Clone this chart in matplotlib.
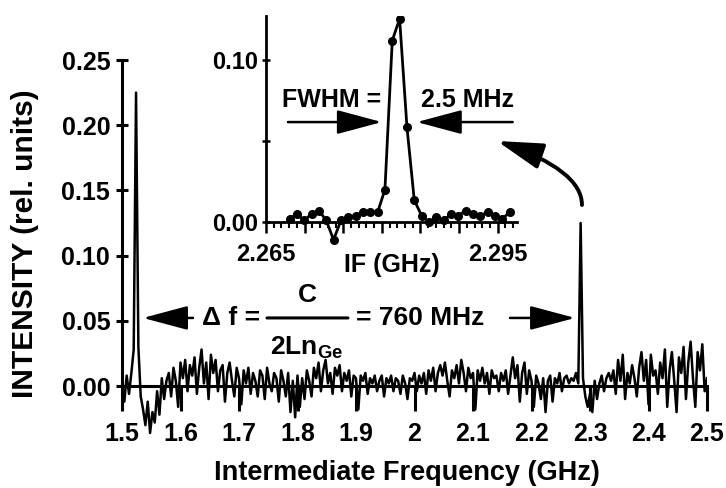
import matplotlib
matplotlib.use('Agg')
import matplotlib.pyplot as plt
import numpy as np
from matplotlib.patches import ArrowStyle

plt.rcParams['font.family'] = ['Liberation Sans', 'DejaVu Sans']
plt.rcParams['font.weight'] = 'bold'
plt.rcParams['mathtext.fontset'] = 'custom'
plt.rcParams['mathtext.rm'] = 'Liberation Sans:bold'
plt.rcParams['mathtext.bf'] = 'Liberation Sans:bold'
plt.rcParams['mathtext.it'] = 'Liberation Sans:bold'
plt.rcParams['mathtext.default'] = 'bf'

# ---------------- data ----------------
# main spectrum, sampled every 4 MHz from 1.5 to 2.5 GHz
freq = np.linspace(1.5, 2.5, 251)
intensity = [
    0.004, -0.012, 0.008, -0.006, 0.010, 0.028, 0.225, 0.030, -0.008, -0.018,
    -0.030, -0.012, -0.036, -0.020, -0.028, -0.004, -0.022, 0.006, -0.010, 0.004,
    0.010, -0.008, 0.014, 0.004, -0.016, 0.018, 0.006, 0.020, -0.004, 0.016,
    0.008, 0.022, -0.006, 0.014, 0.028, 0.002, 0.018, -0.010, 0.024, 0.010,
    0.020, -0.004, 0.012, 0.016, -0.012, 0.010, 0.018, 0.004, -0.008, 0.014,
    0.006, -0.014, 0.012, 0.002, 0.014, -0.006, 0.010, 0.004, -0.008, 0.012,
    0.008, -0.010, 0.014, 0.002, -0.004, 0.010, 0.006, -0.012, 0.012, 0.004,
    -0.008, 0.010, -0.020, 0.004, -0.024, 0.008, -0.016, 0.006, -0.010, 0.012,
    0.004, -0.008, 0.014, 0.006, 0.018, -0.004, 0.012, 0.020, 0.002, 0.010,
    -0.006, 0.014, 0.008, 0.016, -0.004, 0.010, 0.004, 0.012, -0.008, 0.008,
    0.006, -0.018, 0.008, 0.004, 0.010, -0.006, 0.006, 0.002, 0.008, -0.004,
    0.004, 0.008, -0.008, 0.006, 0.002, 0.008, -0.004, 0.006, 0.004, -0.006,
    0.008, 0.002, -0.010, 0.006, 0.004, 0.010, -0.004, 0.008, 0.002, 0.010,
    -0.006, 0.012, 0.004, 0.014, -0.004, 0.010, 0.016, 0.008, 0.018, 0.004,
    -0.008, 0.012, 0.006, 0.016, 0.002, 0.020, 0.010, -0.004, 0.014, 0.006,
    0.010, -0.018, 0.012, 0.004, 0.014, 0.002, 0.010, -0.006, 0.012, 0.006,
    0.008, -0.004, 0.010, 0.004, 0.012, -0.006, 0.008, 0.022, 0.006, 0.016,
    -0.012, 0.010, 0.018, -0.006, 0.012, 0.004, -0.016, 0.008, 0.002, -0.010,
    0.006, -0.020, 0.004, 0.008, -0.012, 0.006, 0.002, 0.010, -0.004, 0.006,
    0.008, 0.002, 0.006, 0.004, 0.010, 0.002, 0.125, 0.006, -0.008, -0.016,
    -0.006, -0.020, 0.004, -0.010, 0.002, 0.008, -0.004, 0.006, 0.010, 0.004,
    0.012, -0.006, 0.020, 0.004, 0.024, -0.010, 0.010, 0.002, 0.016, 0.006,
    -0.008, 0.014, 0.026, 0.004, 0.020, -0.014, 0.024, 0.008, 0.012, -0.006,
    0.018, 0.006, 0.028, -0.016, 0.012, 0.026, 0.004, -0.020, 0.022, 0.010,
    0.030, -0.010, 0.018, 0.034, 0.006, -0.016, 0.026, 0.012, 0.032, -0.004,
    0.006,
]

# inset: zoom on the 2.28 GHz line
if_freq = [2.26805, 2.26900, 2.26995, 2.27090, 2.27185, 2.27280, 2.27375, 2.27470,
           2.27565, 2.27660, 2.27755, 2.27850, 2.27945, 2.28040, 2.28135, 2.28230,
           2.28325, 2.28420, 2.28515, 2.28610, 2.28705, 2.28800, 2.28895, 2.28990,
           2.29085, 2.29180, 2.29275, 2.29370, 2.29465, 2.29560, 2.29655]
if_int = [0.002, 0.005, 0.001, 0.005, 0.007, 0.001, -0.011, 0.001,
          0.003, 0.004, 0.006, 0.006, 0.006, 0.020, 0.112, 0.1255,
          0.0586, 0.0134, 0.004, 0.000, 0.003, 0.001, 0.005, 0.004,
          0.007, 0.005, 0.004, 0.006, 0.004, 0.002, 0.006]

xticks = [1.5, 1.6, 1.7, 1.8, 1.9, 2.0, 2.1, 2.2, 2.3, 2.4, 2.5]
xtick_labels = ['1.5', '1.6', '1.7', '1.8', '1.9', '2', '2.1', '2.2', '2.3', '2.4', '2.5']
yticks = [0.00, 0.05, 0.10, 0.15, 0.20, 0.25]
ytick_labels = ['0.00', '0.05', '0.10', '0.15', '0.20', '0.25']

in_xticks = [2.265, 2.270, 2.275, 2.280, 2.285, 2.290, 2.295]
in_xtick_labels = ['2.265', '', '', '', '', '', '2.295']
in_yticks = [0.00, 0.05, 0.10]
in_ytick_labels = ['0.00', '', '0.10']

FS = 18

# ---------------- figure ----------------
W, H = 726, 488
fig = plt.figure(figsize=(W / 100, H / 100), dpi=100)
fig.patch.set_facecolor('white')

ax = fig.add_axes([122 / W, 1 - 444.7 / H, 585 / W, 384.7 / H])
ax.plot(freq, intensity, color='black', lw=1.8, zorder=3)
ax.set_xlim(1.5, 2.5)
ax.set_ylim(-0.045, 0.25)
for s in ['top', 'right']:
    ax.spines[s].set_visible(False)
ax.spines['bottom'].set_position(('data', 0))
ax.spines['left'].set_bounds(0, 0.25)
for s in ['bottom', 'left']:
    ax.spines[s].set_linewidth(2.2)
ax.set_xticks(xticks)
ax.set_xticklabels(xtick_labels, fontsize=FS, fontweight='bold')
ax.set_yticks(yticks)
ax.set_yticklabels(ytick_labels, fontsize=FS, fontweight='bold')
ax.tick_params(axis='x', direction='out', length=18, width=2.2, pad=8)
ax.tick_params(axis='y', direction='inout', length=9, width=2.2, pad=4)
ax.set_xlabel('Intermediate Frequency (GHz)', fontsize=19.5, fontweight='bold')
ax.xaxis.label.set_va('center')
ax.xaxis.set_label_coords(0.487, -0.0736)
ax.set_ylabel('INTENSITY (rel. units)', fontsize=21.5, fontweight='bold')
ax.yaxis.label.set_va('center')
ax.yaxis.label.set_ha('center')
ax.yaxis.set_label_coords(-0.1658, 0.523)


def arrow(a, tail, tip, lw=1.8, conn='arc3', hl=28, hw=7.5):
    a.annotate('', xy=tip, xytext=tail, xycoords='data', textcoords='data',
               arrowprops=dict(arrowstyle=ArrowStyle('-|>', head_length=hl, head_width=hw),
                               lw=lw, color='black', shrinkA=0, shrinkB=0,
                               mutation_scale=1, connectionstyle=conn),
               annotation_clip=False)


# delta f annotation
yl = 0.0522
arrow(ax, (1.6214, yl), (1.5359, yl))
arrow(ax, (2.1632, yl), (2.2744, yl))
ax.text(1.6863, yl, '\u0394 f =', fontsize=FS + 1, fontweight='bold', ha='center', va='center')
ax.annotate('', xy=(1.8863, yl), xytext=(1.7479, yl),
            arrowprops=dict(arrowstyle='-', lw=2.2, color='black', shrinkA=0, shrinkB=0))
ax.text(1.8162, 0.0698, 'C', fontsize=FS + 1, fontweight='bold', ha='center', va='center')
ax.text(1.8162, 0.0291, '2Ln$_{Ge}$', fontsize=FS + 1, fontweight='bold', ha='center', va='center')
ax.text(2.0094, yl, '= 760 MHz', fontsize=FS + 1, fontweight='bold', ha='center', va='center')

# curved arrow pointing to the inset
arrow(ax, (2.2863, 0.1388), (2.1410, 0.1879), lw=2.8,
      conn='angle3,angleA=90,angleB=-19', hl=28, hw=8)

# ---------------- inset ----------------
axi = fig.add_axes([266 / W, 1 - 246.3 / H, 251 / W, 230 / H])
axi.set_facecolor('none')
axi.plot(if_freq, if_int, color='black', lw=2.0, marker='o', ms=5.5, zorder=3)
axi.set_xlim(2.265, 2.2975)
axi.set_ylim(-0.015, 0.127)
for s in ['top', 'right']:
    axi.spines[s].set_visible(False)
axi.spines['bottom'].set_position(('data', 0))
axi.spines['left'].set_bounds(0, 0.127)
for s in ['bottom', 'left']:
    axi.spines[s].set_linewidth(2.0)
axi.set_xticks(in_xticks)
axi.set_xticklabels(in_xtick_labels, fontsize=FS - 1, fontweight='bold')
axi.set_xticks(np.round(np.arange(2.265, 2.2975, 0.001), 4), minor=True)
axi.set_yticks(in_yticks)
axi.set_yticklabels(in_ytick_labels, fontsize=FS - 1, fontweight='bold')
axi.tick_params(axis='x', which='major', direction='out', length=8, width=1.8, pad=7)
axi.tick_params(axis='x', which='minor', direction='out', length=4, width=1.5)
axi.tick_params(axis='y', direction='inout', length=6, width=1.8, pad=3)
axi.set_xlabel('IF (GHz)', fontsize=FS, fontweight='bold')
axi.xaxis.label.set_va('center')
axi.xaxis.set_label_coords(0.5, -0.081)

yf = 0.0617
arrow(axi, (2.26784, yf), (2.2800, yf))
arrow(axi, (2.29694, yf), (2.28453, yf))
axi.text(2.27347, 0.0753, 'FWHM =', fontsize=FS, fontweight='bold', ha='center', va='center')
axi.text(2.29112, 0.0753, '2.5 MHz', fontsize=FS, fontweight='bold', ha='center', va='center')

fig.savefig('out.png', dpi=100)
